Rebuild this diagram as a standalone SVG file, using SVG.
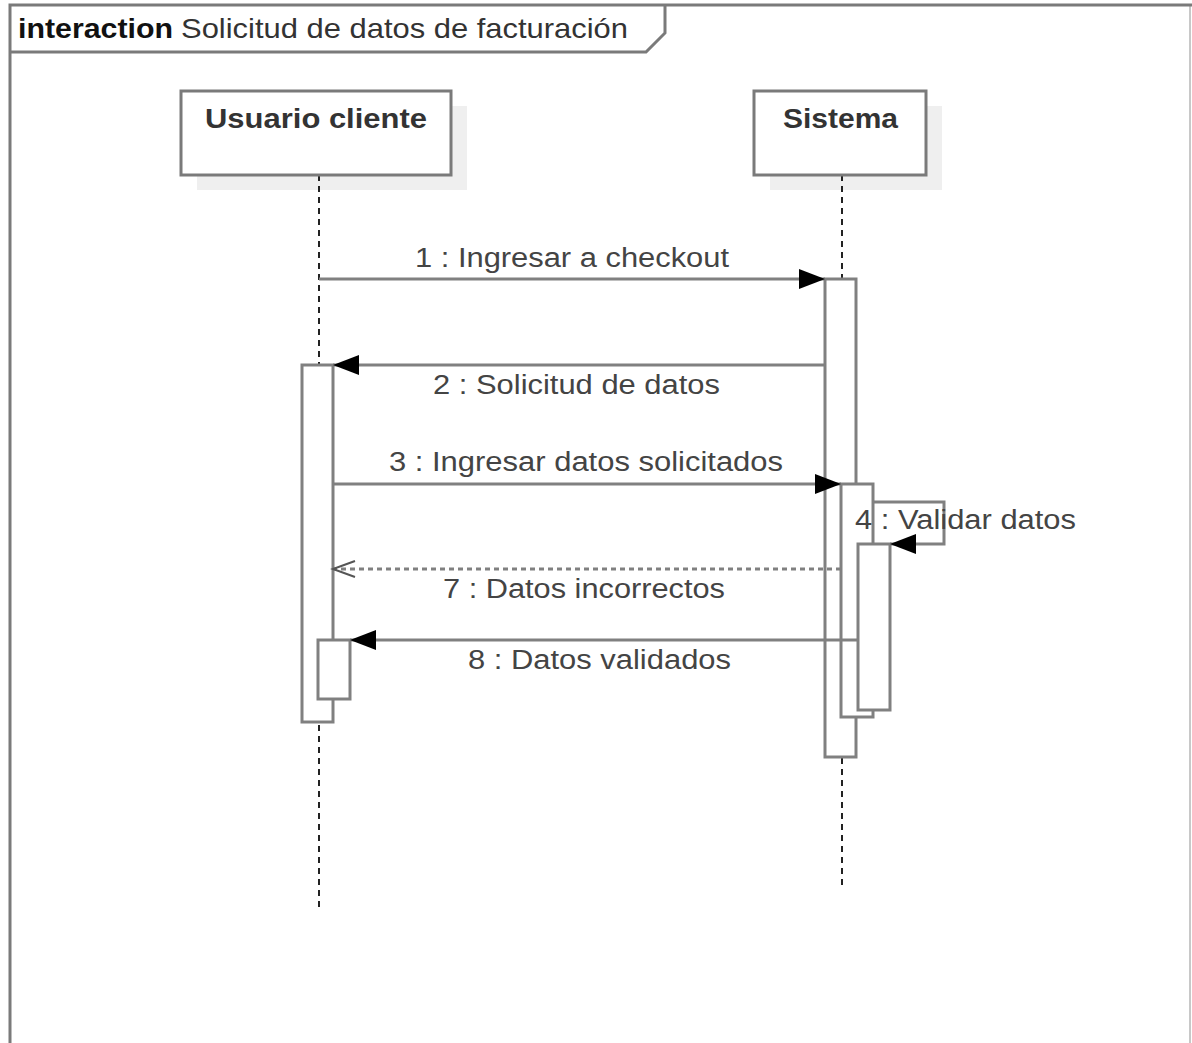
<svg xmlns="http://www.w3.org/2000/svg" width="1192" height="1043" viewBox="0 0 1192 1043">
<defs>
<marker id="fill" markerUnits="userSpaceOnUse" markerWidth="28" markerHeight="22" refX="26" refY="10" orient="auto">
<path d="M0,0 L26,10 L0,20 Z" fill="#000"/>
</marker>
<marker id="open" markerUnits="userSpaceOnUse" markerWidth="28" markerHeight="22" refX="24" refY="10" orient="auto">
<path d="M2,2 L24,10 L2,18" fill="none" stroke="#555" stroke-width="2"/>
</marker>
</defs>
<style>
.frame{fill:none;stroke:#7a7a7a;stroke-width:3}
.frame-r{fill:none;stroke:#c8c8c8;stroke-width:2}
.box{fill:#fff;stroke:#7a7a7a;stroke-width:3}
.shadow{fill:#efefef}
.life{stroke:#222;stroke-width:2;stroke-dasharray:6 5;fill:none}
.act{fill:#fff;stroke:#808080;stroke-width:3}
.msg{fill:none;stroke:#808080;stroke-width:3}
.ret{fill:none;stroke:#808080;stroke-width:3;stroke-dasharray:5 4}
.name{font-family:"Liberation Sans",Arial,sans-serif;font-weight:bold;font-size:27px;fill:#333}
.lbl{font-family:"Liberation Sans",Arial,sans-serif;font-size:27px;fill:#444}
.ttl{font-family:"Liberation Sans",Arial,sans-serif;font-size:28px;fill:#333}
</style>
<g id="frame">
<line class="frame-r" x1="1190" y1="5" x2="1190" y2="1043"/>
<path class="frame" d="M10,1043 L10,5 L1192,5"/>
<path class="frame" d="M10,52 L646,52 L665,33 L665,5"/>
<text class="ttl" x="18" y="38"><tspan font-weight="bold" fill="#111" textLength="155" lengthAdjust="spacingAndGlyphs">interaction</tspan></text>
<text class="ttl" x="181" y="38" textLength="447" lengthAdjust="spacingAndGlyphs">Solicitud de datos de facturación</text>
</g>
<g id="lifeline-usuario">
<rect class="shadow" x="197" y="106" width="270" height="84"/>
<line class="life" x1="319" y1="175" x2="319" y2="910"/>
<rect class="box" x="181" y="91" width="270" height="84"/>
<text class="name" x="205" y="128" textLength="222" lengthAdjust="spacingAndGlyphs">Usuario cliente</text>
</g>
<g id="lifeline-sistema">
<rect class="shadow" x="770" y="106" width="172" height="84"/>
<line class="life" x1="842" y1="175" x2="842" y2="888"/>
<rect class="box" x="754" y="91" width="172" height="84"/>
<text class="name" x="783" y="128" textLength="115" lengthAdjust="spacingAndGlyphs">Sistema</text>
</g>
<g id="activations">
<rect id="act-u1" class="act" x="302" y="365" width="31" height="357"/>
<rect id="act-u2" class="act" x="318" y="640" width="32" height="59"/>
<rect id="act-s1" class="act" x="825" y="279" width="31" height="478"/>
<rect id="act-s2" class="act" x="841" y="484" width="32" height="233"/>
<rect id="act-s3" class="act" x="858" y="544" width="32" height="166"/>
</g>
<g id="connectors">
<line class="msg" x1="319" y1="279" x2="825" y2="279" marker-end="url(#fill)"/>
<line class="msg" x1="825" y1="365" x2="333" y2="365" marker-end="url(#fill)"/>
<line class="msg" x1="333" y1="484" x2="841" y2="484" marker-end="url(#fill)"/>
<path class="msg" d="M873,502 L944,502 L944,544 L890,544" marker-end="url(#fill)"/>
<line class="ret" x1="841" y1="569" x2="333" y2="569" marker-end="url(#open)"/>
<line class="msg" x1="858" y1="640" x2="350" y2="640" marker-end="url(#fill)"/>
</g>
<g id="labels">
<text class="lbl" x="415" y="267" textLength="314" lengthAdjust="spacingAndGlyphs">1 : Ingresar a checkout</text>
<text class="lbl" x="433" y="394" textLength="287" lengthAdjust="spacingAndGlyphs">2 : Solicitud de datos</text>
<text class="lbl" x="389" y="471" textLength="394" lengthAdjust="spacingAndGlyphs">3 : Ingresar datos solicitados</text>
<text class="lbl" x="855" y="529" textLength="221" lengthAdjust="spacingAndGlyphs">4 : Validar datos</text>
<text class="lbl" x="443" y="598" textLength="282" lengthAdjust="spacingAndGlyphs">7 : Datos incorrectos</text>
<text class="lbl" x="468" y="669" textLength="263" lengthAdjust="spacingAndGlyphs">8 : Datos validados</text>
</g>
</svg>
